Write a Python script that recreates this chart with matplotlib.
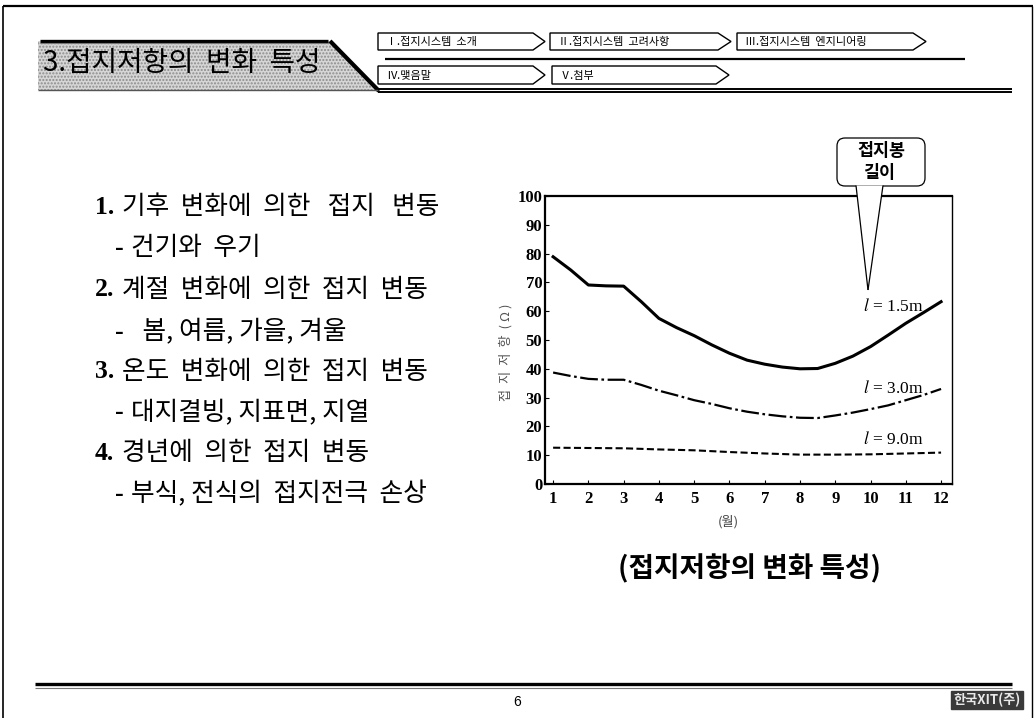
import matplotlib
matplotlib.use("Agg")
import matplotlib.pyplot as plt
from matplotlib.patches import Polygon, FancyBboxPatch
from matplotlib.lines import Line2D

plt.rcParams['mathtext.fontset'] = 'stix'

# ---------------- data ----------------
months = [1, 1.5, 2, 2.5, 3, 3.5, 4, 4.5, 5, 5.5, 6, 6.5, 7, 7.5, 8, 8.5,
          9, 9.5, 10, 10.5, 11, 11.5, 12]
r_15m = [78.9, 74.3, 69.1, 68.8, 68.7, 63.3, 57.5, 54.3, 51.5, 48.3, 45.4, 43.0,
         41.6, 40.6, 40.0, 40.1, 41.9, 44.4, 47.7, 51.7, 55.8, 59.5, 63.3]
r_30m = [38.7, 37.5, 36.5, 36.2, 36.2, 34.4, 32.4, 30.8, 29.1, 27.8, 26.3, 25.1,
         24.2, 23.5, 23.0, 22.9, 23.8, 24.8, 26.0, 27.3, 29.1, 30.9, 33.0]
months_90 = [1, 2, 3, 4, 5, 6, 7, 8, 9, 10, 11, 12]
r_90m = [12.6, 12.5, 12.4, 12.0, 11.7, 11.1, 10.6, 10.2, 10.2, 10.3, 10.6, 10.9]
series_labels = ["= 1.5m", "= 3.0m", "= 9.0m"]
label_y = [61.5, 33.3, 15.3]
x_ticks = list(range(1, 13))
y_ticks = list(range(0, 101, 10))

title = "3.접지저항의  변화  특성"
tabs_row1 = ["Ⅰ.접지시스템  소개", "Ⅱ.접지시스템  고려사항", "Ⅲ.접지시스템  엔지니어링"]
tabs_row2 = ["Ⅳ.맺음말", "Ⅴ.첨부"]
bullets = [("1.", "기후  변화에  의한   접지   변동"),
           ("-", "건기와  우기"),
           ("2.", "계절  변화에  의한  접지  변동"),
           ("-", "  봄, 여름, 가을, 겨울"),
           ("3.", "온도  변화에  의한  접지  변동"),
           ("-", "대지결빙, 지표면, 지열"),
           ("4.", "경년에  의한  접지  변동"),
           ("-", "부식, 전식의  접지전극  손상")]
caption = "(접지저항의 변화 특성)"
callout = ["접지봉", "길이"]
ylabel = "접  지  저  항  ( Ω )"
xlabel = "(월)"

KR = ['Noto Sans CJK KR', 'DejaVu Sans']
SERIF = 'Liberation Serif'

W, H = 1035, 718
fig = plt.figure(figsize=(W / 100, H / 100), dpi=100)
fig.patch.set_facecolor('white')

bg = fig.add_axes([0, 0, 1, 1], zorder=0)
bg.set_xlim(0, W); bg.set_ylim(H, 0); bg.axis('off')
fg = fig.add_axes([0, 0, 1, 1], zorder=5)
fg.set_xlim(0, W); fg.set_ylim(H, 0); fg.axis('off')
fg.patch.set_alpha(0)

def ln(a, xs, ys, lw=1.0, c='black', z=2):
    a.add_line(Line2D(xs, ys, lw=lw, color=c, zorder=z, solid_capstyle='butt'))

# ---- page border ----
ln(bg, [3, 1033], [6, 6], lw=1.6)
ln(bg, [3, 3], [6, 718], lw=1.2)
ln(bg, [1032, 1032], [6, 718], lw=1.0)

# ---- header title band ----
band = Polygon([(38, 41), (329, 41), (377, 90), (38, 90)], closed=True,
               facecolor='#d6d6d6', edgecolor='#8c8c8c', hatch='.....', lw=0, zorder=1)
bg.add_patch(band)
ln(bg, [40, 328], [40.5, 40.5], lw=2.4)
ln(bg, [40, 328], [43, 43], lw=0.8, c='#777777')
ln(bg, [330, 379], [41, 91], lw=3.0)
ln(bg, [38, 378], [90, 90], lw=1.0, c='#555555')
bg.text(43, 63, title, family=KR, fontsize=20, va='center', ha='left', color='black', zorder=3)

# ---- tabs ----
def tab(x0, x1, tip, y0, y1, txt):
    p = Polygon([(x0, y0), (x1, y0), (tip, (y0 + y1) / 2), (x1, y1), (x0, y1)], closed=True,
                facecolor='white', edgecolor='black', lw=1.0, zorder=2)
    bg.add_patch(p)
    bg.text(x0 + 8, (y0 + y1) / 2 + 0.5, txt, family=KR, fontsize=8, va='center', ha='left', zorder=3)

row1 = [(378, 533, 545), (550, 718, 731), (737, 913, 926)]
for (x0, x1, tp), t in zip(row1, tabs_row1):
    tab(x0, x1, tp, 33, 50, t)
row2 = [(378, 533, 545), (552, 716, 729)]
for (x0, x1, tp), t in zip(row2, tabs_row2):
    tab(x0, x1, tp, 66, 84, t)
ln(bg, [385, 965], [59, 59], lw=1.6)
ln(bg, [378, 1012], [88.5, 88.5], lw=1.4)
ln(bg, [378, 1012], [92, 92], lw=1.4)

# ---- bullet text ----
ys = [207, 248, 290, 332, 372, 413, 453, 494]
for (pre, body), y in zip(bullets, ys):
    if pre == "-":
        bg.text(115, y, pre, family=SERIF, weight='bold', fontsize=18.5, va='center', ha='left')
        bg.text(131, y, body, family=KR, fontsize=18.5, va='center', ha='left')
    else:
        bg.text(95, y, pre, family=SERIF, weight='bold', fontsize=18.5, va='center', ha='left')
        bg.text(122, y, body, family=KR, fontsize=18.5, va='center', ha='left')

# ---- chart ----
ax = fig.add_axes([545 / W, 1 - 484 / H, (952 - 545) / W, (484 - 196) / H], zorder=2)
ax.patch.set_alpha(0)
ax.plot(months, r_15m, color='black', lw=2.2, solid_joinstyle='round')
l2, = ax.plot(months, r_30m, color='black', lw=1.6)
l2.set_dashes([8, 1.6, 1.2, 1.6])
l3, = ax.plot(months_90, r_90m, color='black', lw=1.5)
l3.set_dashes([3.4, 1.6])
ax.set_xlim(0.77, 12.31)
ax.set_ylim(0, 100)
ax.set_xticks(x_ticks)
ax.set_yticks(y_ticks)
ax.tick_params(direction='in', length=3, width=0.8, labelsize=12)
for lab in ax.get_xticklabels() + ax.get_yticklabels():
    lab.set_fontfamily(SERIF)
    lab.set_fontweight('bold')
ax.tick_params(axis='x', pad=5)
ax.tick_params(axis='y', pad=2)
for s in ['left', 'bottom', 'top']:
    ax.spines[s].set_linewidth(1.6)
ax.spines['right'].set_linewidth(1.0)
for txt, yv in zip(series_labels, label_y):
    ax.text(9.78, yv, r"$l$ " + txt, family=SERIF, fontsize=12.5, va='center', ha='left')

bg.text(506, 352, ylabel, family=KR, fontsize=9.5, rotation=90, va='center', ha='center', color='#555555')
bg.text(728, 522, xlabel, family=KR, fontsize=9.5, va='center', ha='center', color='#444444')
bg.text(750, 569, caption, family=KR, fontsize=20, weight='bold', va='center', ha='center')

# ---- callout ----
box = FancyBboxPatch((837, 138), 88, 48, boxstyle="round,pad=0,rounding_size=8",
                     facecolor='white', edgecolor='black', lw=0.9, zorder=6)
fg.add_patch(box)
tail = Polygon([(856, 185.5), (883, 185.5), (868, 290)], closed=True,
               facecolor='white', edgecolor='none', zorder=7)
fg.add_patch(tail)
ln(fg, [856, 868], [185.5, 290], lw=0.9, z=8)
ln(fg, [883, 868], [185.5, 290], lw=0.9, z=8)
fg.text(881, 151, callout[0], family=KR, fontsize=12.5, weight='bold', va='center', ha='center', zorder=9)
fg.text(879, 173, callout[1], family=KR, fontsize=12.5, weight='bold', va='center', ha='center', zorder=9)

# ---- footer ----
ln(bg, [35, 1012], [684, 684], lw=2.4)
ln(bg, [35, 1012], [688, 688], lw=0.8, c='#777777')
bg.text(517, 702, "6", family=['Liberation Sans'], fontsize=10, va='center', ha='center')
bg.text(987, 700, "한국XIT(주)", family=KR, fontsize=9.5, weight='bold', va='center', ha='center',
        color='#e8e8e8', bbox=dict(boxstyle='square,pad=0.15', facecolor='#3a3a3a', edgecolor='#3a3a3a'))

fig.savefig("out.png", dpi=100)
